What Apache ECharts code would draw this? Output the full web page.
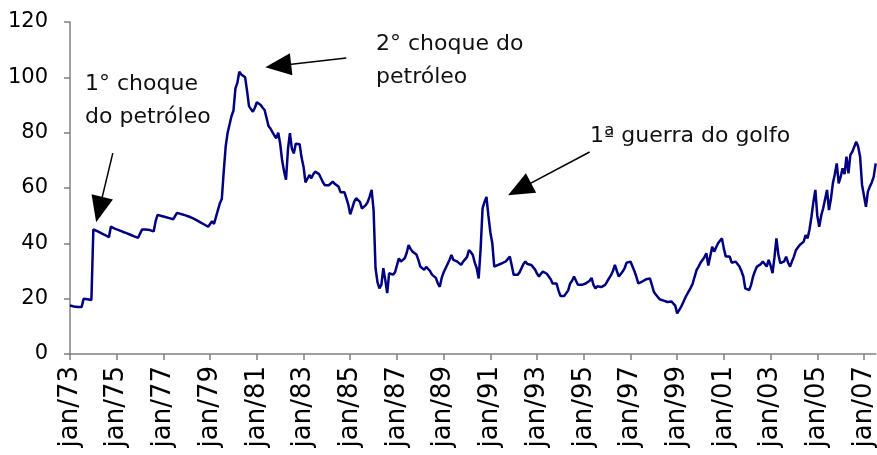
<html>
<head>
<meta charset="utf-8">
<script src="https://cdn.jsdelivr.net/npm/echarts@6/dist/echarts.min.js"></script>
<style>
    body { margin: 0; padding: 0; background: #fff; }
    #chart { width: 877px; height: 455px; }
</style>
</head>
<body>
<div id="chart"></div>
<script type="text/javascript">
    // month names for the category labels (jan/73 ... jul/07)
    var meses = ['jan', 'fev', 'mar', 'abr', 'mai', 'jun', 'jul', 'ago', 'set', 'out', 'nov', 'dez'];
    var anoInicio = 1973;

    // monthly price, jan/73 onwards
    var preco = [
        17.5, 17.3, 17.2, 17, 17, 17, 17, 20, 20, 19.8, 19.6, 19.5,            // 1973
        45, 44.7, 44.4, 44, 43.7, 43.3, 43, 42.6, 42.2, 46, 45.6, 45.3,        // 1974
        45, 44.8, 44.5, 44.2, 44, 43.7, 43.4, 43.1, 42.8, 42.5, 42.2, 42,      // 1975
        42, 45, 45.1, 45, 44.9, 44.8, 44.6, 44.3, 48, 50.3, 50.1, 49.9,        // 1976
        49.7, 49.5, 49.3, 49.1, 48.9, 48.7, 48.5, 51, 50.8, 50.6, 50.4, 50.2,  // 1977
        50, 49.7, 49.4, 49.1, 48.8, 48.4, 48, 47.6, 47.2, 46.8, 46.4, 46,      // 1978
        45.5, 48, 47, 46.6, 52, 54.5, 56, 66, 75, 80, 80.4, 86,                // 1979
        88, 96, 98, 102, 101, 100.5, 100, 95, 89.5, 88.5, 87.6, 89,            // 1980
        91, 90.5, 90, 89, 88.2, 88, 82.4, 81.5, 81, 79, 78, 80,                // 1981
        76, 70, 66, 63, 74, 79.8, 74.3, 72.5, 76, 76, 75.8, 71,                // 1982
        67.7, 62, 62.5, 64.7, 63.5, 65, 65.9, 66.6, 65, 63.5, 62, 61,          // 1983
        60.5, 61, 61.7, 62.3, 61.5, 61, 60.5, 58.5, 59, 58.5, 56.3, 54,        // 1984
        50.5, 52.6, 55, 56.3, 56.5, 55, 52.6, 53, 53.8, 55, 57, 59.3,          // 1985
        52, 31, 26, 23.7, 25, 31, 26.8, 22, 29.2, 29, 28.7, 29.5,              // 1986
        30.2, 34.6, 33.4, 34, 34.6, 36.5, 39.4, 38, 37, 36.5, 36, 34,          // 1987
        31.6, 31, 30.4, 31.5, 32.2, 30, 28.7, 28, 27.5, 25.5, 24.3, 27.5,      // 1988
        29.5, 31, 31, 34, 35.8, 34, 34, 33.4, 32.8, 32.2, 33.4, 33.7,          // 1989
        35, 37.6, 36.8, 35.8, 33, 31, 27.3, 38, 52.6, 55, 56.8, 50,            // 1990
        44, 40, 31.6, 32, 32.2, 31.5, 32.8, 33.1, 33.5, 34, 35.2, 32,          // 1991
        28.6, 28.6, 28.6, 29.5, 31, 32.5, 33.4, 32.5, 32.2, 32.2, 32.2, 30.5,  // 1992
        29, 28, 29, 29.8, 29.8, 29, 28.6, 27, 25.5, 25.5, 25.5, 23,            // 1993
        21, 21, 21, 21, 23, 25.5, 26.5, 28, 26.5, 25, 25, 25,                  // 1994
        24.5, 25.5, 25.5, 26.5, 27.5, 25, 23.7, 24.5, 25, 24.2, 23.7, 25,      // 1995
        26.2, 26.5, 28.5, 30, 32.2, 30, 28, 28.5, 29.8, 31, 33, 33.4,          // 1996
        33.4, 33.4, 30, 28, 25.5, 26, 26.2, 26.5, 27, 27.3, 27.3, 25,          // 1997
        22.5, 21.5, 21, 19.8, 19.5, 19.3, 18.6, 18.8, 19, 19, 19, 17.5,        // 1998
        14.7, 15.3, 17, 18.5, 20.1, 21.5, 22.2, 24, 25.5, 28, 30.4, 31.6,      // 1999
        33, 33.4, 35, 36.4, 32, 31.6, 38.8, 37, 36.4, 40, 40.6, 41.8,          // 2000
        38, 35.2, 35.2, 35.2, 33, 32.5, 33.4, 32.5, 31.6, 30, 28, 23.7,        // 2001
        23.2, 23.1, 25, 28, 30, 31.6, 31.6, 32.5, 33.4, 32.5, 31.6, 34,        // 2002
        32, 29.2, 35, 41.8, 36, 32.8, 32.8, 33.5, 35.2, 33, 31.6, 33.5,        // 2003
        35.2, 37.5, 38.5, 39.4, 40, 40.6, 43, 41.8, 45, 49.6, 55, 59.3,        // 2004
        50, 46, 50, 52.6, 52, 59.3, 52, 56, 61.7, 65, 68.9, 61.7,              // 2005
        64, 67.1, 65, 71.3, 65.3, 72, 73.1, 73.7, 76.7, 75, 71.3, 61.1,        // 2006
        61.7, 53.2, 58.7, 60.5, 62, 64.1, 68.9                                 // 2007
    ];

    var categorias = [];
    for (var c = 0; c < preco.length; c++) {
        var ano = anoInicio + Math.floor(c / 12);
        categorias.push(meses[c % 12] + '/' + String(ano).slice(2));
    }

    // annotations: [tail, head] in data space, and the texts
    var setas = [
        [['nov/74', 72.6], ['abr/74', 52.2]],
        [['nov/84', 107], ['dez/81', 104.2]],
        [['abr/95', 73], ['abr/92', 59.6]]
    ];
    var textos = ['1° choque\ndo petróleo', '2° choque do\npetróleo', '1ª guerra do golfo'];

    var chart = echarts.init(document.getElementById('chart'));

    const option = {
        animation: false,
        backgroundColor: '#ffffff',
        grid: { left: 70, right: 1, top: 22, bottom: 101 },
        xAxis: {
            type: 'category',
            data: categorias,
            boundaryGap: false,
            axisLine: { lineStyle: { color: '#808080', width: 1.5 } },
            axisTick: {
                length: 6,
                interval: function (idx) { return idx % 24 === 0; },
                lineStyle: { color: '#808080', width: 1.5 }
            },
            axisLabel: {
                interval: function (idx) { return idx % 24 === 0; },
                rotate: 90,
                margin: 12,
                color: '#000',
                fontFamily: 'DejaVu Sans',
                fontSize: 26
            },
            splitLine: { show: false }
        },
        yAxis: {
            type: 'value',
            min: 0,
            max: 120,
            interval: 20,
            axisLine: { show: true, lineStyle: { color: '#808080', width: 1.5 } },
            axisTick: { show: true, length: 6, lineStyle: { color: '#808080', width: 1.5 } },
            axisLabel: {
                margin: 22,
                color: '#000',
                fontFamily: 'DejaVu Sans',
                fontSize: 21
            },
            splitLine: { show: false }
        },
        series: [{
            type: 'line',
            data: preco,
            showSymbol: false,
            lineStyle: { color: '#000080', width: 2.5 },
            markLine: {
                silent: true,
                animation: false,
                symbol: ['none', 'triangle'],
                symbolSize: [22, 26],
                label: { show: false },
                lineStyle: { color: '#000', width: 1.5, type: 'solid' },
                itemStyle: { color: '#000' },
                data: setas.map(function (s) {
                    return [{ coord: s[0] }, { coord: s[1] }];
                })
            }
        }],
        graphic: [
            { type: 'text', left: 85, top: 68, style: { text: textos[0], font: '22px "DejaVu Sans"', lineHeight: 33, fill: '#111' } },
            { type: 'text', left: 376, top: 28, style: { text: textos[1], font: '22px "DejaVu Sans"', lineHeight: 33, fill: '#111' } },
            { type: 'text', left: 590, top: 120, style: { text: textos[2], font: '22px "DejaVu Sans"', lineHeight: 33, fill: '#111' } }
        ]
    };
    chart.setOption(option);
</script>
</body>
</html>
